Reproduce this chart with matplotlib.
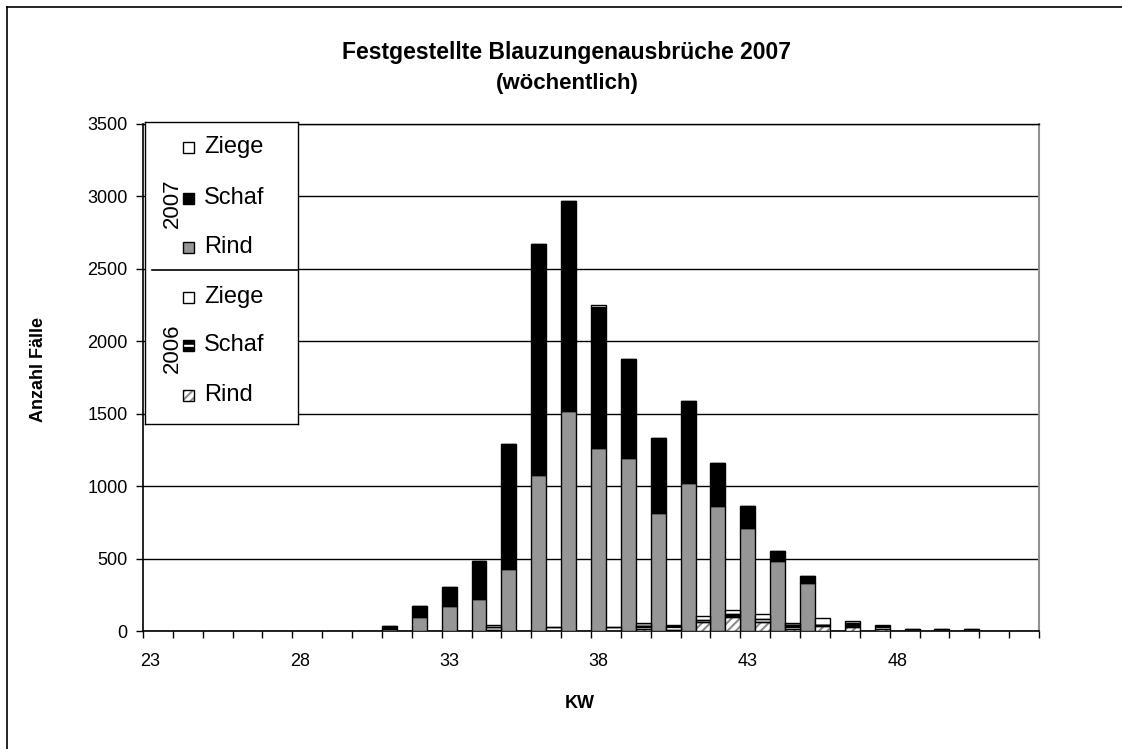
import numpy as np
import matplotlib
matplotlib.use("Agg")
import matplotlib.pyplot as plt
from matplotlib.patches import Rectangle
from matplotlib.lines import Line2D

plt.rcParams['font.family'] = ['Liberation Sans', 'DejaVu Sans']
plt.rcParams['hatch.linewidth'] = 1.5

# Kalenderwochen 23..52
weeks = np.arange(23, 53)

# 2007 (Rind, Schaf, Ziege)
rind_07 = [0, 0, 0, 0, 0, 0, 0, 0, 15, 95, 175, 218, 430, 1075, 1520, 1262,
           1195, 815, 1020, 860, 712, 480, 330, 0, 0, 0, 0, 0, 0, 0]
schaf_07 = [0, 0, 0, 0, 0, 0, 0, 0, 22, 77, 131, 265, 862, 1600, 1450, 973,
            685, 520, 570, 300, 153, 72, 50, 0, 0, 0, 0, 0, 0, 0]
ziege_07 = [0, 0, 0, 0, 0, 0, 0, 0, 0, 0, 0, 0, 0, 0, 0, 15,
            0, 0, 0, 0, 0, 0, 0, 0, 0, 0, 0, 0, 0, 0]

# 2006 (Rind, Schaf, Ziege)
rind_06 = [0, 0, 0, 0, 0, 0, 0, 0, 0, 0, 0, 5, 0, 0, 0, 0,
           15, 10, 62, 100, 65, 15, 35, 25, 15, 0, 0, 0, 0, 0]
schaf_06 = [0, 0, 0, 0, 0, 0, 0, 0, 0, 0, 0, 25, 0, 30, 0, 25,
            20, 25, 12, 15, 20, 25, 5, 30, 20, 15, 12, 12, 0, 0]
ziege_06 = [0, 0, 0, 0, 0, 0, 0, 0, 0, 0, 0, 10, 0, 0, 0, 0,
            20, 5, 28, 30, 30, 15, 52, 15, 5, 0, 0, 0, 0, 0]

xtick_labels = [23, 28, 33, 38, 43, 48]

fig = plt.figure(figsize=(11.22, 7.49), dpi=100)
W, H = 1122, 749
ax = fig.add_axes([143 / W, 1 - 631 / H, (1039 - 143) / W, (631 - 124) / H])

bw = 0.5
r07 = np.array(rind_07); s07 = np.array(schaf_07); z07 = np.array(ziege_07)
r06 = np.array(rind_06); s06 = np.array(schaf_06); z06 = np.array(ziege_06)

# 2007 bars
m = (r07 + s07 + z07) > 0
x07 = weeks[m]
ax.bar(x07, r07[m], bw, color='#969696', edgecolor='black', linewidth=1, zorder=3)
ax.bar(x07, s07[m], bw, bottom=r07[m], color='black', edgecolor='black', linewidth=1, zorder=3)
ax.bar(x07, z07[m], bw, bottom=(r07 + s07)[m], color='white', edgecolor='black', linewidth=1, zorder=3)

# 2006 bars (hatched), drawn next to 2007
m6 = (r06 + s06 + z06) > 0
x06 = weeks[m6] + 0.5
segs = [(r06[m6], np.zeros(m6.sum()), 'white', '#8c8c8c', '////'),
        (s06[m6], r06[m6], 'black', 'white', '--'),
        (z06[m6], (r06 + s06)[m6], 'white', '#b0b0b0', '-')]
for h, b, fc, hc, hatch in segs:
    ax.bar(x06, h, bw, bottom=b, color=fc, edgecolor=hc, hatch=hatch, linewidth=0, zorder=3)
    ax.bar(x06, h, bw, bottom=b, fill=False, edgecolor='black', linewidth=1, zorder=4)

ax.set_xlim(22.75, 52.75)
ax.set_ylim(0, 3500)
ax.set_yticks(np.arange(0, 3501, 500))
ax.yaxis.grid(True, color='black', linewidth=1)
ax.set_axisbelow(True)

ax.set_xticks(np.arange(22.75, 53, 1))
ax.set_xticklabels([])
ax.set_xticks(xtick_labels, minor=True)
ax.set_xticklabels([str(v) for v in xtick_labels], minor=True, fontsize=13)
ax.tick_params(axis='x', which='minor', length=0, pad=16)
ax.tick_params(axis='x', which='major', length=5, width=1, direction='out')
ax.tick_params(axis='y', length=5, width=1, direction='out', labelsize=13, pad=6)

ax.spines['right'].set_color('#909090')
ax.spines['right'].set_linewidth(1.5)
ax.spines['top'].set_linewidth(1)
ax.spines['left'].set_linewidth(1.2)
ax.spines['bottom'].set_linewidth(1.2)

ax.set_xlabel('KW', fontsize=13, fontweight='bold')
ax.xaxis.set_label_coords(0.488, -0.126)
ax.set_ylabel('Anzahl Fälle', fontsize=13, fontweight='bold')
ax.yaxis.set_label_coords(-0.107, 0.515)

fig.text(567 / W, 1 - 52 / H, 'Festgestellte Blauzungenausbrüche 2007',
         ha='center', va='center', fontsize=16.5, fontweight='bold')
fig.text(567 / W, 1 - 84 / H, '(wöchentlich)',
         ha='center', va='center', fontsize=16, fontweight='bold')

# outer frame (top and left edge visible)
fig.add_artist(Line2D([7 / W, 7 / W], [0, 1 - 7 / H], transform=fig.transFigure, color='black', lw=1.2))
fig.add_artist(Line2D([7 / W, 1], [1 - 7 / H, 1 - 7 / H], transform=fig.transFigure, color='black', lw=1.2))

# legend box
lg = fig.add_axes([145 / W, 1 - 424 / H, (298 - 145) / W, (424 - 122) / H], zorder=10)
lg.set_xlim(145, 298)
lg.set_ylim(424, 122)
lg.set_xticks([]); lg.set_yticks([])
for s in lg.spines.values():
    s.set_linewidth(1)
lg.plot([152, 298], [270, 270], color='black', lw=1.2)

items_07 = [('Ziege', 'white', None, None, 147), ('Schaf', 'black', None, None, 198),
            ('Rind', '#969696', None, None, 247)]
items_06 = [('Ziege', 'white', '#b0b0b0', '-', 297), ('Schaf', 'black', 'white', '--', 345),
            ('Rind', 'white', '#8c8c8c', '////', 395)]
for name, fc, hc, hatch, y in items_07 + items_06:
    if hatch:
        lg.add_patch(Rectangle((183, y - 5.5), 11, 11, facecolor=fc, edgecolor=hc, hatch=hatch, lw=0))
        lg.add_patch(Rectangle((183, y - 5.5), 11, 11, fill=False, edgecolor='black', lw=1))
    else:
        lg.add_patch(Rectangle((183, y - 5.5), 11, 11, facecolor=fc, edgecolor='black', lw=1))
    lg.text(204, y, name, fontsize=17, va='center', ha='left')

clip = Rectangle((165, 122), 133, 302, transform=lg.transData, visible=False)
lg.add_patch(clip)
for lab, yc in [('2007', 203), ('2006', 348)]:
    t = lg.text(172, yc, lab, rotation=90, fontsize=16, ha='center', va='center')
    t.set_clip_path(clip)

fig.savefig('out.png', dpi=100)
